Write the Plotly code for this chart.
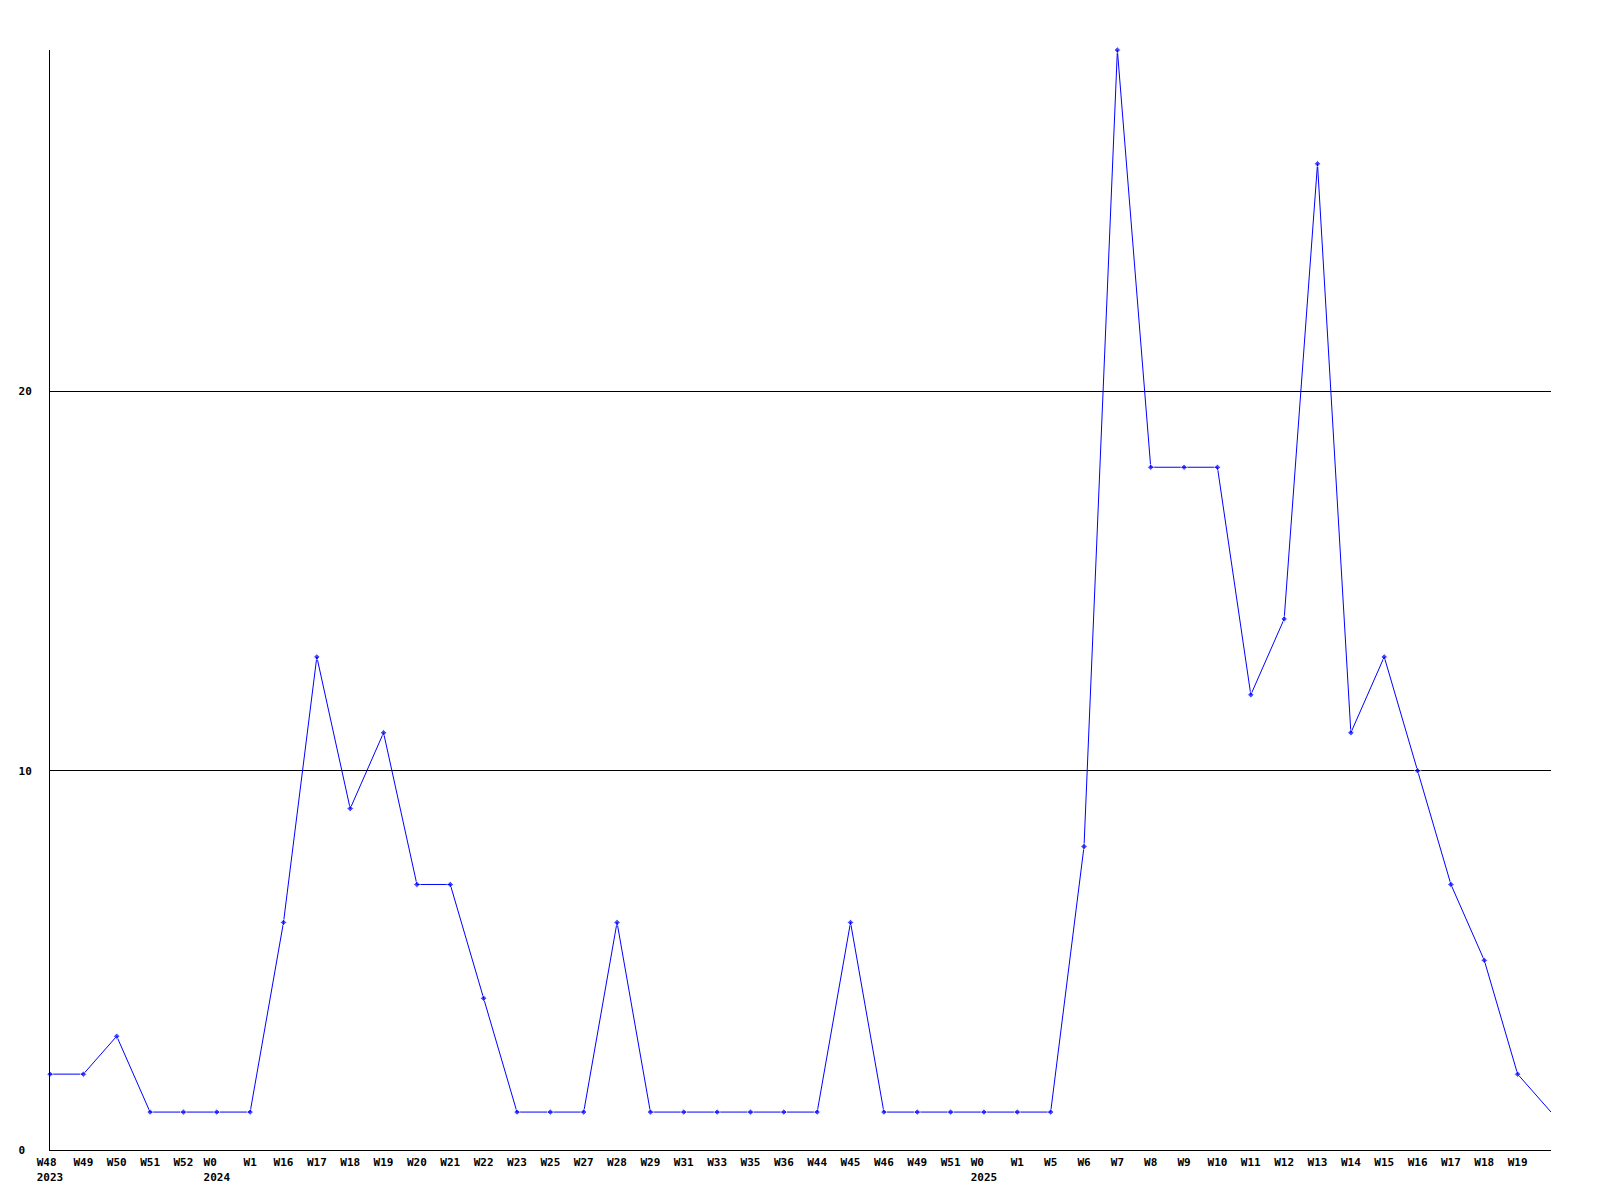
import plotly.graph_objects as go

weeks = ["2023-W48", "2023-W49", "2023-W50", "2023-W51", "2023-W52",
         "2024-W0", "2024-W1", "2024-W16", "2024-W17", "2024-W18", "2024-W19",
         "2024-W20", "2024-W21", "2024-W22", "2024-W23", "2024-W25", "2024-W27",
         "2024-W28", "2024-W29", "2024-W31", "2024-W33", "2024-W35", "2024-W36",
         "2024-W44", "2024-W45", "2024-W46", "2024-W49", "2024-W51",
         "2025-W0", "2025-W1", "2025-W5", "2025-W6", "2025-W7", "2025-W8",
         "2025-W9", "2025-W10", "2025-W11", "2025-W12", "2025-W13", "2025-W14",
         "2025-W15", "2025-W16", "2025-W17", "2025-W18", "2025-W19", "2025-W20"]

tick_labels = ["W48\u00a0<br>2023", "W49", "W50", "W51", "W52",
               "W0\u00a0\u00a0<br>2024", "W1", "W16", "W17", "W18", "W19",
               "W20", "W21", "W22", "W23", "W25", "W27",
               "W28", "W29", "W31", "W33", "W35", "W36",
               "W44", "W45", "W46", "W49", "W51",
               "W0\u00a0\u00a0<br>2025", "W1", "W5", "W6", "W7", "W8",
               "W9", "W10", "W11", "W12", "W13", "W14",
               "W15", "W16", "W17", "W18", "W19", ""]

counts = [2, 2, 3, 1, 1,
          1, 1, 6, 13, 9, 11,
          7, 7, 4, 1, 1, 1,
          6, 1, 1, 1, 1, 1,
          1, 6, 1, 1, 1,
          1, 1, 1, 8, 29, 18,
          18, 18, 12, 14, 26, 11,
          13, 10, 7, 5, 2, 1]

y_tickvals = [0, 10, 20]
y_ticktext = ["0\u00a0", "10", "20"]

marker_sizes = [5] * (len(counts) - 1) + [0]

fig = go.Figure()
fig.add_trace(go.Scatter(
    x=weeks, y=counts, mode="lines+markers",
    line=dict(color="#0000ff", width=1),
    marker=dict(symbol="diamond", size=marker_sizes, color="#0000ff"),
    cliponaxis=False,
    showlegend=False,
))

font = dict(family="DejaVu Sans Mono", size=11, color="black", weight="bold")

fig.update_layout(
    width=1600, height=1200,
    margin=dict(l=50, r=49, t=50, b=50),
    paper_bgcolor="white", plot_bgcolor="white",
    font=font,
    xaxis=dict(
        type="category", range=[0, len(weeks) - 1],
        tickmode="array", tickvals=weeks, ticktext=tick_labels,
        tickangle=0, showgrid=False, zeroline=False,
        showline=True, linecolor="black", linewidth=1,
        ticks="", ticklabelstandoff=2, tickfont=font,
    ),
    yaxis=dict(
        range=[0, 29], tickmode="array", tickvals=y_tickvals, ticktext=y_ticktext,
        showgrid=True, gridcolor="black", gridwidth=1, zeroline=False,
        showline=True, linecolor="black", linewidth=1,
        ticks="", ticklabelstandoff=15, tickfont=font,
    ),
)

fig.write_html(
    "out.html",
    config={"displayModeBar": False},
    post_script="document.body.style.margin='0px';document.body.style.overflow='hidden';",
)
